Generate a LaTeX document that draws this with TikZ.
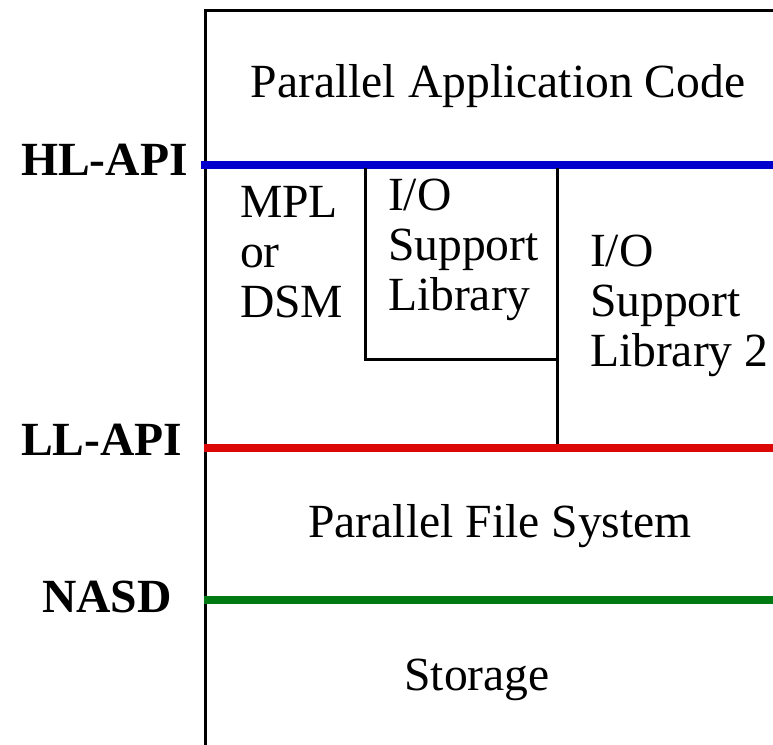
\documentclass[tikz,border=0pt]{standalone}
\usepackage{fontspec}
\setmainfont{Liberation Serif}
\begin{document}
\begin{tikzpicture}[x=1pt,y=-1pt,
  txt/.style={inner sep=0pt,outer sep=0pt,font=\fontsize{47.6}{50}\selectfont},
  lbl/.style={txt,font=\fontsize{47.6}{50}\selectfont\bfseries,anchor=base west},
  frame/.style={line width=3pt,black},
  api/.style={line width=8pt}]
\definecolor{apiblue}{RGB}{0,0,205}
\definecolor{apired}{RGB}{220,8,8}
\definecolor{apigreen}{RGB}{0,122,18}
\useasboundingbox (0,0) rectangle (773,744);

% outer frame (open at right and bottom)
\coordinate (tl) at (205.5,10.5);
\coordinate (tr) at (775,10.5);
\coordinate (bl) at (205.5,746);
\draw[frame] (tr) -- (tl) -- (bl);

% interface lines
\coordinate (hlL) at (201,164.5);  \coordinate (hlR) at (775,164.5);
\coordinate (llL) at (204,448);    \coordinate (llR) at (775,448);
\coordinate (naL) at (204,600);    \coordinate (naR) at (775,600);
\draw[api,apiblue] (hlL) -- (hlR);
\draw[api,apired] (llL) -- (llR);
\draw[api,apigreen] (naL) -- (naR);

% I/O support library box and divider
\coordinate (bxTL) at (365.5,168);
\coordinate (bxBL) at (365.5,359.5);
\coordinate (bxBR) at (557,359.5);
\coordinate (bxTR) at (557,168);
\coordinate (dvB) at (557,444);
\draw[frame,line join=miter] (bxTL) -- (bxBL) -- (bxBR) -- (bxTR);
\draw[frame] (bxBR) -- (dvB);

% layer texts
\node[txt,anchor=base] (pac) at (498,97) {Parallel Application Code};
\node[txt,anchor=base] (pfs) at (500,537) {Parallel File System};
\node[txt,anchor=base] (sto) at (477,690) {Storage};

\node[txt,anchor=base west] (mpl1) at (240,217) {MPL};
\node[txt,anchor=base west] (mpl2) at (240,267) {or};
\node[txt,anchor=base west] (mpl3) at (240,317) {DSM};

\node[txt,anchor=base west] (iol1) at (388,210) {I/O};
\node[txt,anchor=base west] (iol2) at (388,260) {Support};
\node[txt,anchor=base west] (iol3) at (388,310) {Library};

\node[txt,anchor=base west] (io2a) at (590,266) {I/O};
\node[txt,anchor=base west] (io2b) at (590,316) {Support};
\node[txt,anchor=base west] (io2c) at (590,366) {Library 2};

% interface labels
\node[lbl] (hl) at (21,175) {HL-API};
\node[lbl] (ll) at (21,455) {LL-API};
\node[lbl] (na) at (42,612) {NASD};
\end{tikzpicture}
\end{document}
